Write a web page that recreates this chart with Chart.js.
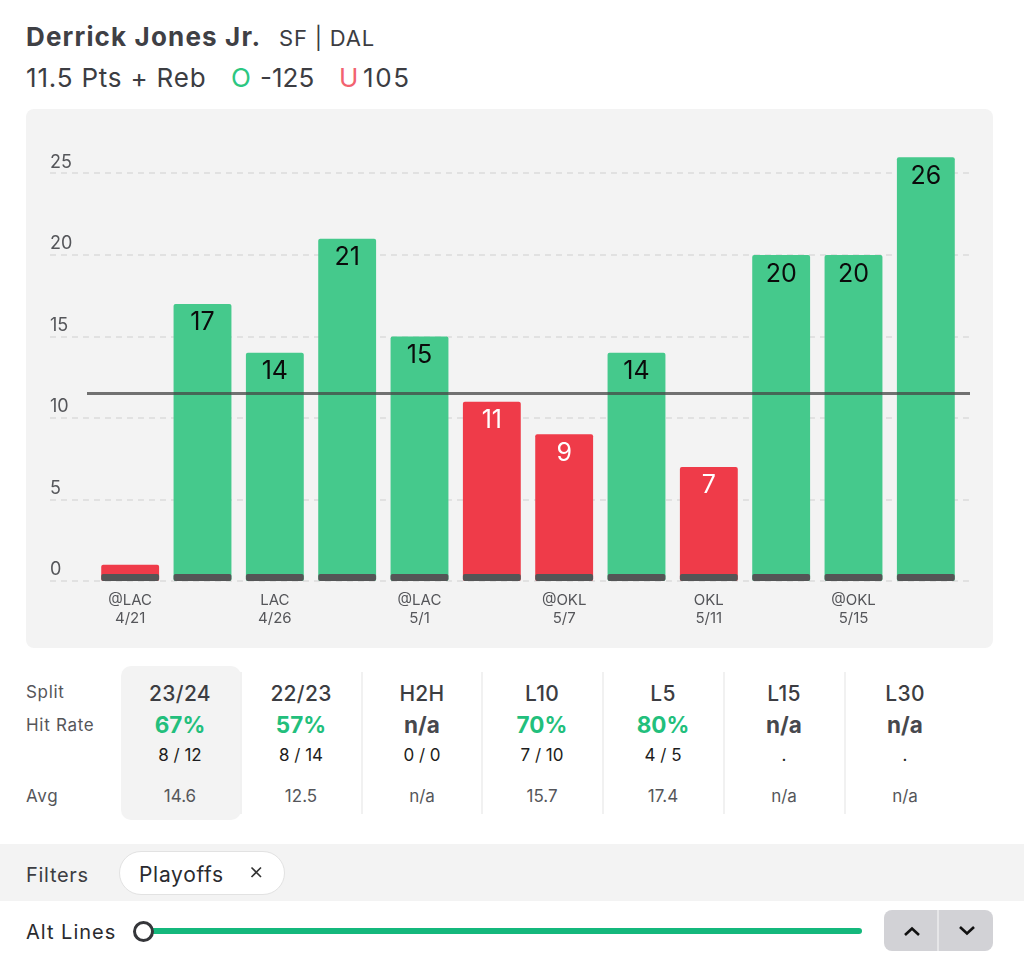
<!DOCTYPE html>
<html><head><meta charset="utf-8">
<script src="https://cdn.jsdelivr.net/npm/chart.js@4"></script>
<style>
html,body{margin:0;padding:0;background:#fff;width:1024px;height:957px;overflow:hidden;font-family:Inter,sans-serif;color:#3c3d42}
.t{position:absolute;white-space:nowrap;line-height:1}
.c{transform:translateX(-50%)}
#panel{position:absolute;left:26px;top:109px;width:967px;height:539px;background:#f3f3f3;border-radius:8px}
canvas{display:block}
.sep{position:absolute;top:672px;height:142px;width:2px;background:#f1f1f1}
</style></head><body>
<div class="t" style="left:26px;top:24px;font-size:26px;font-weight:700;color:#3f4045;letter-spacing:1.15px">Derrick Jones Jr.</div>
<div class="t" style="left:279px;top:27px;font-size:22px;letter-spacing:.8px">SF | DAL</div>
<div class="t" style="left:26px;top:65px;font-size:26px;letter-spacing:.8px">11.5 Pts + Reb</div>
<div class="t" style="left:231px;top:65px;font-size:26px;color:#2cc781">O</div>
<div class="t" style="left:260px;top:65px;font-size:26px">-125</div>
<div class="t" style="left:339px;top:65px;font-size:26px;color:#f2626f">U</div>
<div class="t" style="left:363px;top:65px;font-size:26px;letter-spacing:1.6px">105</div>
<div id="panel"><canvas id="c" width="967" height="539"></canvas></div>

<div style="position:absolute;left:121px;top:666px;width:120px;height:154px;background:#f3f3f3;border-radius:10px"></div>
<div id="table"></div>

<div style="position:absolute;left:0;top:844px;width:1024px;height:57px;background:#f3f3f3"></div>
<div class="t" style="left:26px;top:865px;font-size:20px;color:#3c3d42;letter-spacing:.7px">Filters</div>
<div style="position:absolute;left:119px;top:851px;width:164px;height:42px;background:#fff;border:1px solid #e2e2e2;border-radius:22px"></div>
<div class="t" style="left:139px;top:864px;font-size:21px;color:#2a2b2f;letter-spacing:.7px">Playoffs</div>
<svg style="position:absolute;left:250px;top:866px" width="13" height="13"><path d="M1.5 1.5L11 11M11 1.5L1.5 11" stroke="#333" stroke-width="1.6"/></svg>

<div class="t" style="left:26px;top:922px;font-size:20px;color:#2a2b2f;letter-spacing:1px">Alt Lines</div>
<div style="position:absolute;left:144px;top:928px;width:718px;height:6px;background:#14b87c;border-radius:3px"></div>
<div style="position:absolute;left:133px;top:921px;width:15px;height:15px;background:#fff;border:3px solid #35363a;border-radius:50%"></div>
<div style="position:absolute;left:884px;top:910px;width:109px;height:41px;background:#d2d2d6;border-radius:8px"></div>
<div style="position:absolute;left:937px;top:910px;width:2px;height:41px;background:#e6e6e8"></div>
<svg style="position:absolute;left:903px;top:925px" width="18" height="12"><path d="M2 10L9 3.5L16 10" fill="none" stroke="#111" stroke-width="2.6"/></svg>
<svg style="position:absolute;left:958px;top:925px" width="18" height="12"><path d="M2 2L9 8.5L16 2" fill="none" stroke="#111" stroke-width="2.6"/></svg>

<script>
const categories = ["@LAC|4/21","","LAC|4/26","","@LAC|5/1","","@OKL|5/7","","OKL|5/11","","@OKL|5/15",""];
const values = [1,17,14,21,15,11,9,14,7,20,20,26];
const baseBand = [0.43,0.43,0.43,0.43,0.43,0.43,0.43,0.43,0.43,0.43,0.43,0.43];
const propLine = 11.5;
const yTicks = [0,5,10,15,20,25];

const splitNames = ["23/24","22/23","H2H","L10","L5","L15","L30"];
const hitRates = ["67%","57%","n/a","70%","80%","n/a","n/a"];
const hitCounts = ["8 / 12","8 / 14","0 / 0","7 / 10","4 / 5",".","."];
const averages = ["14.6","12.5","n/a","15.7","17.4","n/a","n/a"];
const colCenters = [180,301,422,542,663,784,905];

const GREEN = "#45c98c", RED = "#ef3b49";

let html = "";
[["Split",684],["Hit Rate",717],["Avg",788]].forEach(r=>{
  html += `<div class="t" style="left:26px;top:${r[1]}px;font-size:17px;color:#55565a;letter-spacing:.7px">${r[0]}</div>`;
});
splitNames.forEach((n,i)=>{
  const x = colCenters[i];
  html += `<div class="t c" style="left:${x}px;top:683px;font-size:21px;font-weight:500;color:#3c3d42;letter-spacing:.3px">${n}</div>`;
  html += `<div class="t c" style="left:${x}px;top:714px;font-size:22.5px;font-weight:700;color:${hitRates[i]==="n/a"?"#47484d":"#22bf7c"}">${hitRates[i]}</div>`;
  html += `<div class="t c" style="left:${x}px;top:747px;font-size:17px;color:#1d1d20">${hitCounts[i]}</div>`;
  html += `<div class="t c" style="left:${x}px;top:788px;font-size:17px;color:#55565a">${averages[i]}</div>`;
  if(i>0) html += `<div class="sep" style="left:${x-61}px"></div>`;
});
document.getElementById("table").innerHTML = html;

const backdrop = {
  id:"backdrop",
  beforeDatasetsDraw(ch){
    const y = ch.scales.y, g = ch.ctx;
    g.save();
    g.strokeStyle="#dcdcdc"; g.lineWidth=1.5; g.setLineDash([6,5]);
    yTicks.forEach(v=>{
      const p = Math.round(y.getPixelForValue(v));
      g.beginPath(); g.moveTo(24,p); g.lineTo(944,p); g.stroke();
    });
    g.restore();
  },
  afterDatasetsDraw(ch){
    const y = ch.scales.y, g = ch.ctx;
    g.save();
    const p = y.getPixelForValue(propLine);
    g.strokeStyle="rgba(70,70,70,0.75)"; g.lineWidth=3;
    g.beginPath(); g.moveTo(61,p); g.lineTo(944,p); g.stroke();
    const els = ch.getDatasetMeta(1).data;
    g.font="400 25px Inter, sans-serif"; g.textAlign="center"; g.textBaseline="middle";
    els.forEach((el,i)=>{
      if(values[i]<3) return;
      g.fillStyle = values[i]>propLine ? "#0b0b0b" : "#ffffff";
      g.fillText(String(values[i]), el.x, el.y+19);
    });
    g.restore();
  }
};

new Chart(document.getElementById("c"),{
  type:"bar",
  data:{
    labels:categories.map(s=>s?s.split("|"):""),
    datasets:[
      {data:baseBand,backgroundColor:"#545556",borderRadius:2,borderSkipped:false,barPercentage:0.8,categoryPercentage:1,order:1},
      {data:values,backgroundColor:values.map(v=>v>propLine?GREEN:RED),borderRadius:2,borderSkipped:false,barPercentage:0.8,categoryPercentage:1,order:2}
    ]
  },
  plugins:[backdrop],
  options:{
    responsive:false,animation:false,devicePixelRatio:1,
    layout:{padding:{left:24,right:31,top:15.6,bottom:0}},
    plugins:{legend:{display:false},tooltip:{enabled:false},title:{display:false}},
    scales:{
      x:{
        stacked:true,
        afterFit(s){s.height=67;s.paddingLeft=0;s.paddingRight=0;},
        grid:{display:false},border:{display:false},
        ticks:{autoSkip:false,maxRotation:0,padding:2,color:"#55565a",font:{family:"Inter",size:15,lineHeight:1.2}}
      },
      y:{
        min:0,max:28,
        afterFit(s){s.width=44;s.paddingTop=0;s.paddingBottom=0;},
        afterBuildTicks(s){s.ticks=yTicks.map(v=>({value:v}));},
        grid:{display:false},border:{display:false},
        ticks:{callback:v=>[String(v),""],crossAlign:"far",padding:0,color:"#55565a",font:{family:"Inter",size:18,lineHeight:"22px"}}
      }
    }
  }
});
</script>
</body></html>
